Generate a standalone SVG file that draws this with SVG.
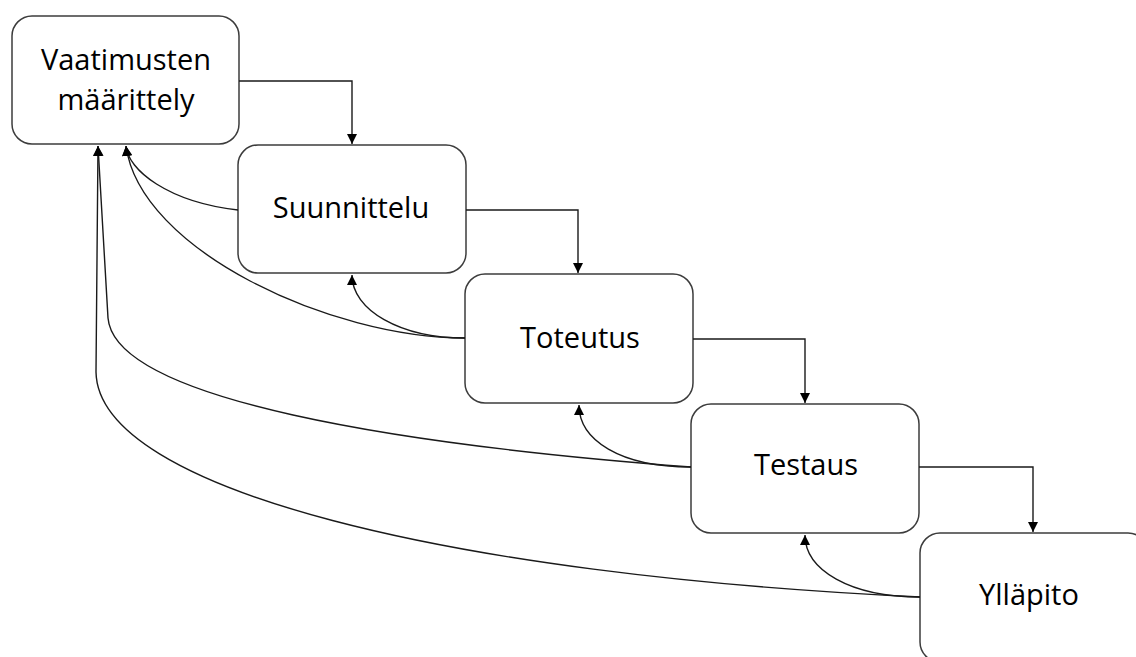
<svg xmlns="http://www.w3.org/2000/svg" width="1136" height="657" viewBox="0 0 1136 657">
  <style>
    .box { fill: #ffffff; stroke: #3c3c3c; stroke-width: 1.5; }
    .label { font-family: "Open Sans", "Noto Sans", sans-serif; font-size: 29px; fill: #000000; text-anchor: middle; }
    .link { fill: none; stroke: #1a1a1a; stroke-width: 1.4; marker-end: url(#arrow); }
  </style>
  <defs>
    <marker id="arrow" viewBox="0 0 10 10" refX="10" refY="5" markerWidth="10" markerHeight="10" markerUnits="userSpaceOnUse" orient="auto">
      <path d="M0,0 L10,5 L0,10 Z" fill="#000000"/>
    </marker>
  </defs>
  <rect width="1136" height="657" fill="#ffffff"/>

  <!-- phases of the waterfall model -->
  <g id="vaatimusten">
    <rect class="box" x="12" y="16" width="227" height="128" rx="20"/>
    <text class="label" x="126" y="70">Vaatimusten</text>
    <text class="label" x="126" y="110">määrittely</text>
  </g>
  <g id="suunnittelu">
    <rect class="box" x="238" y="145" width="228" height="128" rx="20"/>
    <text class="label" x="351" y="218">Suunnittelu</text>
  </g>
  <g id="toteutus">
    <rect class="box" x="465" y="274" width="228" height="129" rx="20"/>
    <text class="label" x="580" y="348">Toteutus</text>
  </g>
  <g id="testaus">
    <rect class="box" x="691" y="404" width="228" height="129" rx="20"/>
    <text class="label" x="806" y="475">Testaus</text>
  </g>
  <g id="yllapito">
    <rect class="box" x="920" y="533" width="228" height="129" rx="20"/>
    <text class="label" x="1029" y="605">Ylläpito</text>
  </g>

  <g id="connectors">
    <!-- forward flow: elbow connectors -->
    <path class="link" d="M239,81 H352 V144"/>
    <path class="link" d="M466,210 H578 V273"/>
    <path class="link" d="M693,339 H805 V403"/>
    <path class="link" d="M919,467 H1033 V532"/>

    <!-- feedback to the previous phase -->
    <path class="link" d="M238,210 C168,202 128,170 126,146"/>
    <path class="link" d="M465,338 C400,338 352,310 352,275"/>
    <path class="link" d="M691,467 C620,467 579,440 579,405"/>
    <path class="link" d="M920,597 C850,597 805,570 805,535"/>

    <!-- feedback to requirements -->
    <path class="link" d="M465,338 C330,338 140,250 126,146"/>
    <path class="link" d="M691,467 C400,445 115,400 108,318 L98,146"/>
    <path class="link" d="M920,597 C450,575 98,490 96,372 L98,146"/>
  </g>
</svg>
